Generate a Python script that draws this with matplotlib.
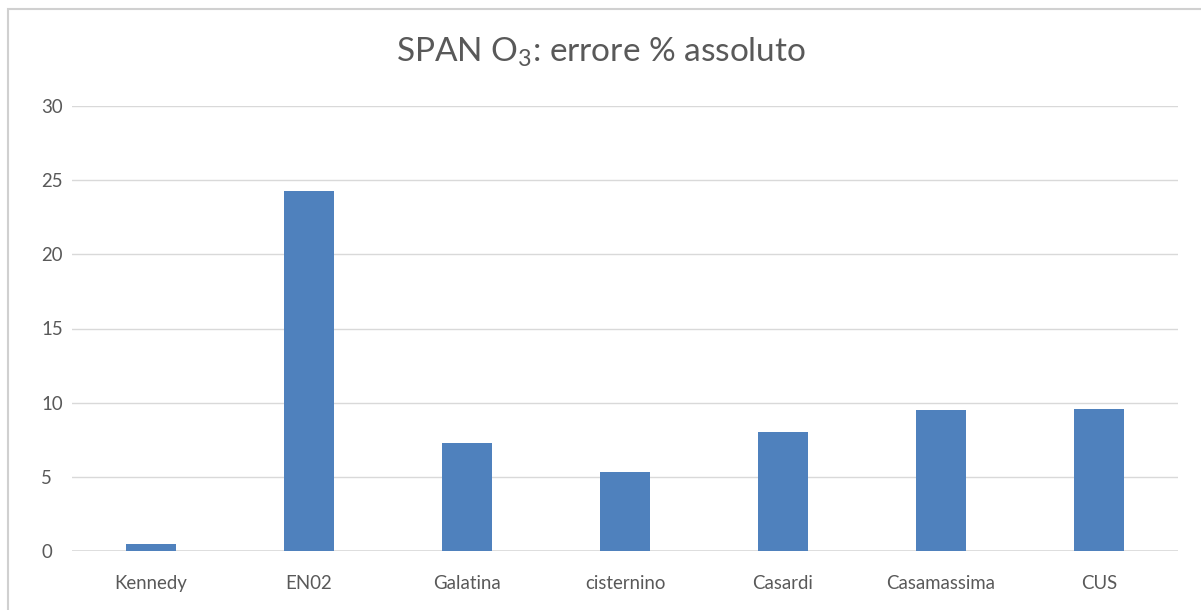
import matplotlib

matplotlib.use("Agg")
import matplotlib.pyplot as plt
from matplotlib.patches import Rectangle

stations = ["Kennedy", "EN02", "Galatina", "cisternino", "Casardi", "Casamassima", "CUS"]
errore_pct = [0.45, 24.3, 7.3, 5.3, 8.0, 9.5, 9.55]
y_ticks = [0, 5, 10, 15, 20, 25, 30]

plt.rcParams.update({
    "font.family": ["Lato", "DejaVu Sans"],
    "mathtext.default": "regular",
})

TEXT = "#595959"
fig = plt.figure(figsize=(12.01, 6.10), dpi=100)
ax = fig.add_axes([72 / 1201, 1 - 551 / 610, 1106 / 1201, 445 / 610])

# outer chart frame
fig.patches.append(Rectangle((8 / 1201, -0.05), 1.1, 1 - 9 / 610 + 0.05,
                             transform=fig.transFigure, fill=False,
                             edgecolor="#d0d0d0", linewidth=1.5))

x = range(len(stations))
ax.bar(x, errore_pct, width=0.32, color="#4f81bd", zorder=3)

ax.set_xlim(-0.5, len(stations) - 0.5)
ax.set_ylim(0, 30)
ax.set_yticks(y_ticks)
ax.set_xticks(list(x))
ax.set_xticklabels(stations)
ax.grid(axis="y", color="#d9d9d9", linewidth=1, zorder=0)
ax.tick_params(length=0, colors=TEXT, labelsize=13.4)
ax.tick_params(axis="x", pad=17)
ax.tick_params(axis="y", pad=22)
for lbl in ax.get_yticklabels():
    lbl.set_horizontalalignment("left")
for s in ax.spines.values():
    s.set_visible(False)
ax.axhline(0, color="#d9d9d9", linewidth=1.2, zorder=2)

fig.text(0.5, 1 - 52 / 610, "SPAN O$_3$: errore % assoluto", ha="center", va="center",
         fontsize=24, color=TEXT)

fig.savefig("out.png", dpi=100, facecolor="white")
